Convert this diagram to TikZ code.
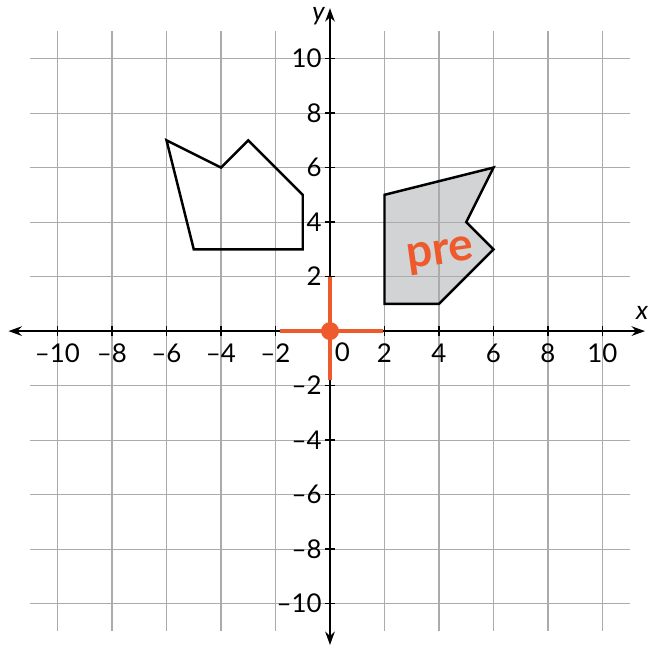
\documentclass[tikz,border=0pt]{standalone}
\usepackage{fontspec}
\setmainfont{Lato}
\usepackage{tikz}
\usetikzlibrary{arrows.meta}
\definecolor{penorange}{HTML}{EE5A2C}
\definecolor{shadegray}{HTML}{D2D3D5}
\tikzset{
    gridline/.style={draw=black!33, line width=0.6pt},
    axisline/.style={black, line width=0.95pt, {Stealth[length=7pt, width=5pt]}-{Stealth[length=7pt, width=5pt]}},
    shapeline/.style={black, line width=1.3pt, line join=miter},
    ticklbl/.style={font=\fontsize{13.5}{15}\selectfont, inner sep=1pt},
    penmark/.style={penorange, line width=2.1pt}
}

\begin{document}
\begin{tikzpicture}[x=0.5cm, y=0.5cm]
        \useasboundingbox (-12.11,-11.85) rectangle (11.74,12.15);
        % shaded figure first, grid on top
        \fill[shadegray] (2,5) -- (6,6) -- (5,4) -- (6,3) -- (4,1) -- (2,1) -- cycle;
        \draw[gridline] (-11,-11) grid (11,11);
        % axes
        \draw[axisline] (-11.8,0) -- (11.56,0);
        \draw[axisline] (0,-11.52) -- (0,11.85);
        \node[font=\itshape\fontsize{13.5}{15}\selectfont, inner sep=0pt] (xlbl) at (11.45,0.65) {x};
        \node[font=\itshape\fontsize{13.5}{15}\selectfont, inner sep=0pt] (ylbl) at (-0.42,11.55) {y};
        \foreach \t in {-10,-8,...,10} {
            \ifnum\t=0\else
                \draw[black, line width=0.8pt] (\t,-0.17) -- (\t,0.17);
                \draw[black, line width=0.8pt] (-0.17,\t) -- (0.17,\t);
                \node[ticklbl] (xt\t) at (\t,-0.8) {\ifnum\t<0 –\number-\t\else\t\fi};
                \node[ticklbl, anchor=east] (yt\t) at (-0.22,\t) {\ifnum\t<0 –\number-\t\else\t\fi};
            \fi
        }
        \node[ticklbl] (zero) at (0.45,-0.78) {0};
        % the two figures
        \draw[shapeline] (-6,7) -- (-4,6) -- (-3,7) -- (-1,5) -- (-1,3) -- (-5,3) -- cycle;
        \draw[shapeline] (2,5) -- (6,6) -- (5,4) -- (6,3) -- (4,1) -- (2,1) -- cycle;
        % orange marks
        \draw[penmark] (-1.83,0) -- (1.95,0);
        \draw[penmark] (0,2) -- (0,-1.8);
        \fill[penorange] (0,0) circle (0.33);
        \node[penorange, font=\bfseries\fontsize{24}{26}\selectfont, rotate=8] (pre) at (4.05,2.75) {pre};
    \end{tikzpicture}
\end{document}
